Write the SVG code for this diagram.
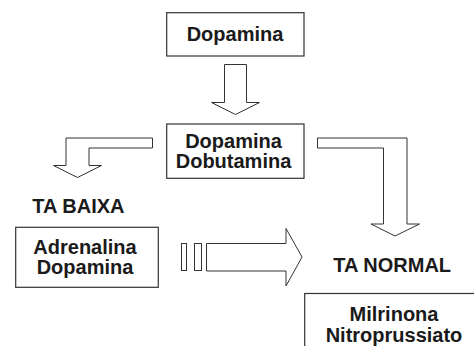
<svg xmlns="http://www.w3.org/2000/svg" width="474" height="346" viewBox="0 0 474 346">
<style>
.box{fill:#fff;stroke:#333;stroke-width:1.2}
.arr{fill:#fff;stroke:#333;stroke-width:1}
text{font-family:"Liberation Sans",Arial,sans-serif;font-weight:bold;font-size:20px;fill:#1a1a1a}
.c{text-anchor:middle}
</style>
<rect width="474" height="346" fill="#fff"/>
<g id="connectors">
<polygon class="arr" points="224.5,64.5 246.5,64.5 246.5,102.5 259.5,102.5 235.5,114.5 211.5,102.5 224.5,102.5"/>
<polygon class="arr" points="152.5,138 66,138 66,165.5 53.5,165.5 77.5,177.5 101.5,165.5 89,165.5 89,148 152.5,148"/>
<polygon class="arr" points="317.5,138 407,138 407,224 419.5,224 395,236 371,224 383.5,224 383.5,148 317.5,148"/>
<rect class="arr" x="181.5" y="243.5" width="5" height="27"/>
<rect class="arr" x="194.5" y="243.5" width="7" height="27"/>
<polygon class="arr" points="206.5,243.5 286,243.5 286,228.5 302,257 286,286 286,271 206.5,271"/>
</g>
<g id="n1">
<rect class="box" x="166.7" y="12.7" width="137.3" height="43.3"/>
<text class="c" x="235" y="40.7">Dopamina</text>
</g>
<g id="n2">
<rect class="box" x="166.7" y="124" width="137.3" height="54.3"/>
<text class="c" x="233.5" y="147.5">Dopamina</text>
<text class="c" x="233.5" y="168.3">Dobutamina</text>
</g>
<g id="n3">
<text x="32.3" y="212.7">TA BAIXA</text>
</g>
<g id="n4">
<rect class="box" x="15.7" y="227.3" width="142.6" height="60"/>
<text class="c" x="85" y="254">Adrenalina</text>
<text class="c" x="85" y="273.5">Dopamina</text>
</g>
<g id="n5">
<text x="333.3" y="271.7">TA NORMAL</text>
</g>
<g id="n6">
<rect class="box" x="304.7" y="293.5" width="180" height="70"/>
<text class="c" x="394" y="320.7">Milrinona</text>
<text class="c" x="394" y="342.3">Nitroprussiato</text>
</g>
</svg>
